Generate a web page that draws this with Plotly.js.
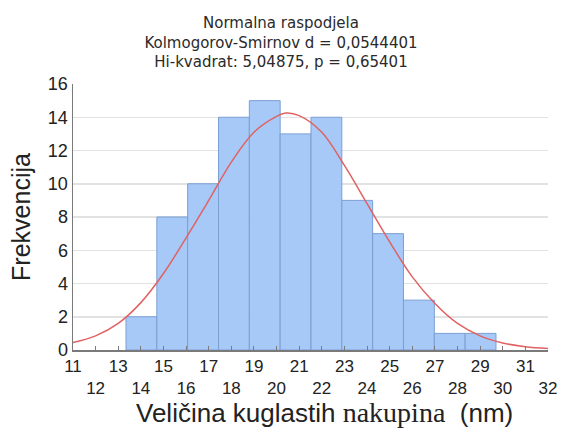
<!DOCTYPE html>
<html>
<head>
<meta charset="utf-8">
<script src="https://cdn.plot.ly/plotly-3.0.1.min.js"></script>
<style>html,body{margin:0;padding:0;background:#fff;}#chart{width:562px;height:434px;}</style>
</head>
<body>
<div id="chart"></div>
<script>
// Histogram bins (centres, nm) and frequencies
const binCenters = [14.025, 15.388, 16.751, 18.114, 19.477, 20.840, 22.203, 23.566, 24.929, 26.293, 27.656, 29.019];
const binWidth = 1.363;
const counts = [2, 8, 10, 14, 15, 13, 14, 9, 7, 3, 1, 1];

// Fitted normal curve
const curveX = [11, 12, 13, 14, 15, 16, 17, 18, 19, 20, 20.4, 21, 22, 23, 24, 25, 26, 27, 28, 29, 30, 31, 32];
const curveY = [0.45, 0.85, 1.6, 2.85, 4.6, 6.75, 9.0, 11.3, 13.1, 14.05, 14.25, 14.1, 13.1, 11.1, 8.8, 6.5, 4.4, 2.8, 1.6, 0.85, 0.42, 0.2, 0.09];

// Axis ticks
const xTickVals = [11, 12, 13, 14, 15, 16, 17, 18, 19, 20, 21, 22, 23, 24, 25, 26, 27, 28, 29, 30, 31, 32];
const xTickText = ["11", "<br>12", "13", "<br>14", "15", "<br>16", "17", "<br>18", "19", "<br>20", "21", "<br>22", "23", "<br>24", "25", "<br>26", "27", "<br>28", "29", "<br>30", "31", "<br>32"];
const yTickVals = [0, 2, 4, 6, 8, 10, 12, 14, 16];

const titleLines = ["Normalna raspodjela", "Kolmogorov-Smirnov d = 0,0544401", "Hi-kvadrat: 5,04875, p = 0,65401"];
const xTitle = 'Veličina kuglastih <span style="font-family:Liberation Serif,Times New Roman,serif;font-size:28px">nakupina</span>&nbsp;&nbsp;(nm)';

const FONT = "Liberation Sans, Arial, sans-serif";
const FRAME = "#7a7a7a";

const traces = [
  {
    type: "bar",
    x: binCenters,
    y: counts,
    width: binWidth,
    marker: {color: "#a6c9f8", line: {color: "#7b9fd3", width: 1}},
    hoverinfo: "skip"
  },
  {
    type: "scatter",
    mode: "lines",
    x: curveX,
    y: curveY,
    line: {color: "#e06262", width: 1.5, shape: "spline", smoothing: 1},
    hoverinfo: "skip"
  }
];

const layout = {
  width: 562,
  height: 434,
  margin: {l: 73, r: 14, t: 84, b: 84},
  paper_bgcolor: "#ffffff",
  plot_bgcolor: "#ffffff",
  showlegend: false,
  bargap: 0,
  font: {family: FONT, color: "#222222"},
  title: {
    text: titleLines.join("<br>"),
    font: {family: "DejaVu Sans, sans-serif", size: 15, color: "#2a2a2a"},
    x: 0.5, xref: "container", xanchor: "center",
    y: 0.935, yref: "container", yanchor: "top"
  },
  annotations: [
    {
      text: xTitle,
      xref: "paper", yref: "paper",
      x: 0.5, y: 0,
      xshift: 14, yshift: -62,
      xanchor: "center", yanchor: "middle",
      showarrow: false,
      font: {family: FONT, size: 26, color: "#222222"}
    }
  ],
  xaxis: {
    range: [11, 32],
    tickmode: "array",
    tickvals: xTickVals,
    ticktext: xTickText,
    ticks: "inside",
    ticklen: 4,
    tickcolor: FRAME,
    tickfont: {family: FONT, size: 17, color: "#222222"},
    showline: true,
    linecolor: FRAME,
    linewidth: 1.5,
    showgrid: false,
    zeroline: false
  },
  xaxis2: {
    overlaying: "x",
    side: "top",
    range: [11, 32],
    tick0: 11.95,
    dtick: 1.39,
    ticks: "inside",
    ticklen: 3,
    tickcolor: FRAME,
    showticklabels: false,
    showline: true,
    linecolor: FRAME,
    linewidth: 1.5,
    showgrid: false,
    zeroline: false
  },
  yaxis: {
    range: [0, 16],
    tickmode: "array",
    tickvals: yTickVals,
    ticks: "",
    tickfont: {family: FONT, size: 18, color: "#222222"},
    showline: true,
    linecolor: FRAME,
    linewidth: 1.5,
    showgrid: true,
    gridcolor: "#e2e2e2",
    gridwidth: 1.5,
    zeroline: false,
    title: {
      text: "Frekvencija",
      font: {family: FONT, size: 25, color: "#222222"},
      standoff: 10
    }
  },
  yaxis2: {
    overlaying: "y",
    side: "right",
    range: [0, 9],
    dtick: 1,
    ticks: "inside",
    ticklen: 3,
    tickcolor: FRAME,
    showticklabels: false,
    showline: true,
    linecolor: FRAME,
    linewidth: 1.5,
    showgrid: false,
    zeroline: false
  }
};

Plotly.newPlot("chart", traces, layout, {staticPlot: true, displayModeBar: false});
</script>
</body>
</html>
